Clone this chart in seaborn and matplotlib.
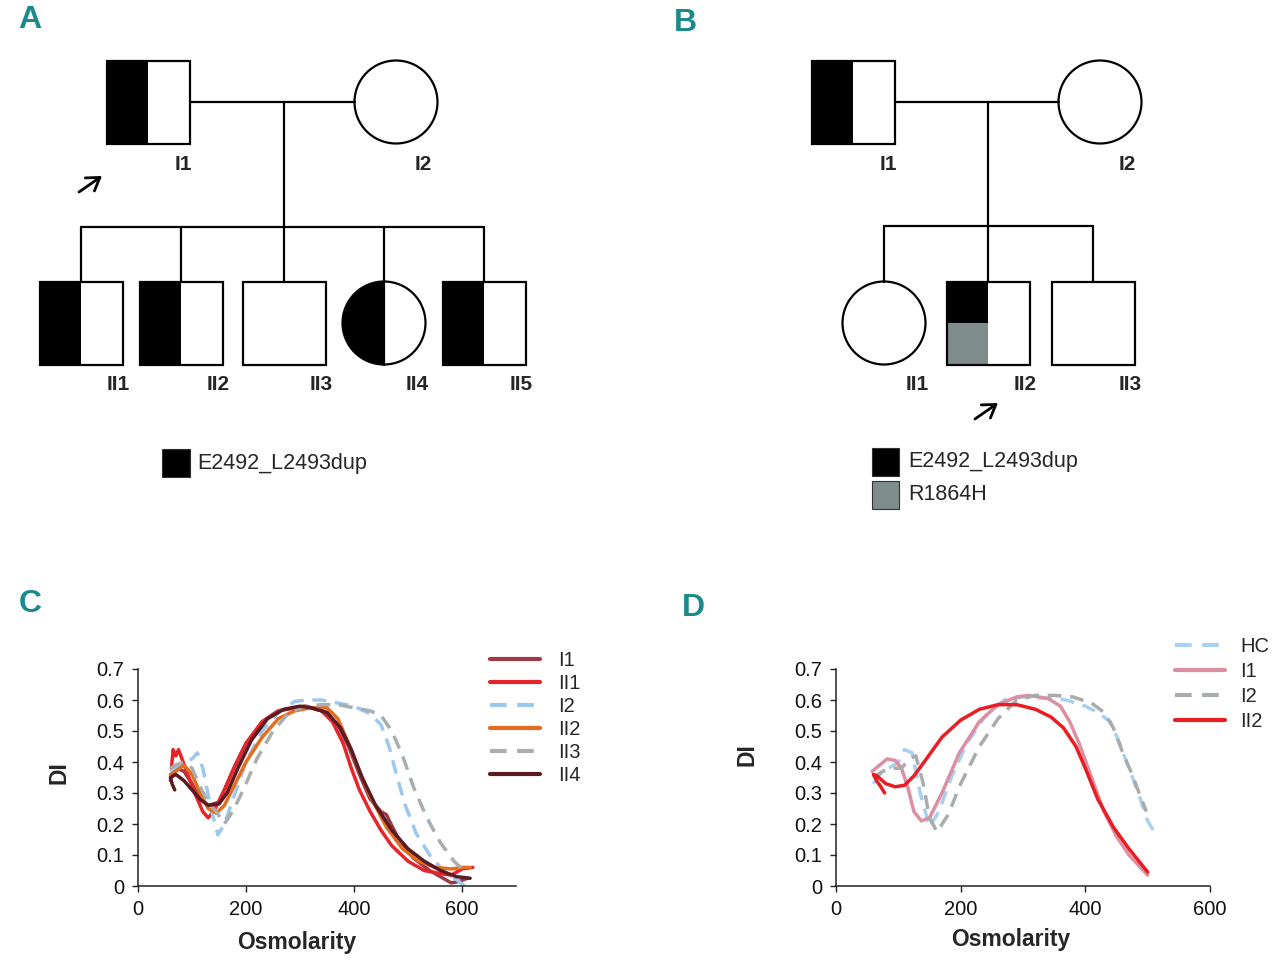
import numpy as np
import pandas as pd
import seaborn as sns
import matplotlib.pyplot as plt
from matplotlib.patches import Rectangle, Circle, Wedge, FancyArrowPatch

# ---- panel C: osmotic gradient ektacytometry, family 1 ----
c_samples = ['I1', 'II1', 'I2', 'II2', 'II3', 'II4']
c_colors = ['#9E3A48', '#E8242B', '#9CC8EE', '#E36C1E', '#A9AEAE', '#5C1A22']
c_dashed = [False, False, True, False, True, False]

c_I1_x = [60, 65, 72, 85, 100, 115, 130, 150, 175, 200, 230, 260, 290, 310, 340, 370, 390, 410, 430, 450, 460, 480, 510, 540, 560, 580, 595, 610]
c_I1_y = [0.34, 0.37, 0.38, 0.37, 0.33, 0.28, 0.26, 0.27, 0.37, 0.46, 0.53, 0.565, 0.575, 0.58, 0.565, 0.52, 0.45, 0.36, 0.28, 0.24, 0.23, 0.16, 0.09, 0.05, 0.03, 0.01, 0.015, 0.025]
c_II1_x = [62, 65, 70, 75, 90, 105, 120, 130, 140, 160, 180, 200, 230, 260, 290, 310, 340, 360, 380, 395, 410, 430, 450, 470, 500, 530, 560, 580, 600, 620]
c_II1_y = [0.38, 0.44, 0.42, 0.44, 0.37, 0.30, 0.24, 0.22, 0.24, 0.31, 0.39, 0.46, 0.53, 0.565, 0.575, 0.58, 0.565, 0.53, 0.46, 0.38, 0.31, 0.24, 0.18, 0.13, 0.08, 0.05, 0.04, 0.035, 0.055, 0.06]
c_I2_x = [60, 75, 90, 100, 110, 120, 135, 148, 160, 180, 200, 230, 260, 290, 310, 340, 370, 400, 430, 450, 465, 480, 495, 515, 540, 565, 590, 605]
c_I2_y = [0.37, 0.39, 0.40, 0.41, 0.43, 0.38, 0.25, 0.165, 0.2, 0.3, 0.4, 0.5, 0.56, 0.595, 0.6, 0.6, 0.59, 0.58, 0.555, 0.52, 0.45, 0.35, 0.26, 0.17, 0.1, 0.05, 0.02, 0.0]
c_II2_x = [60, 70, 85, 100, 115, 130, 145, 160, 180, 200, 230, 260, 290, 320, 350, 370, 390, 410, 430, 460, 490, 520, 550, 580, 600, 615]
c_II2_y = [0.36, 0.37, 0.39, 0.36, 0.30, 0.25, 0.235, 0.26, 0.33, 0.40, 0.48, 0.54, 0.565, 0.575, 0.575, 0.54, 0.46, 0.37, 0.29, 0.19, 0.12, 0.08, 0.06, 0.055, 0.06, 0.06]
c_II3_x = [60, 70, 85, 100, 115, 130, 145, 160, 175, 195, 220, 250, 280, 310, 340, 370, 400, 430, 450, 470, 490, 510, 535, 560, 585, 610]
c_II3_y = [0.38, 0.39, 0.40, 0.38, 0.32, 0.27, 0.24, 0.2, 0.24, 0.31, 0.41, 0.5, 0.56, 0.58, 0.585, 0.585, 0.575, 0.565, 0.55, 0.5, 0.42, 0.32, 0.22, 0.14, 0.08, 0.04]
c_II4_x = [68, 63, 60, 70, 85, 100, 115, 130, 150, 165, 185, 210, 240, 270, 300, 320, 350, 375, 395, 415, 440, 470, 500, 530, 560, 590, 615]
c_II4_y = [0.31, 0.33, 0.35, 0.36, 0.34, 0.31, 0.28, 0.26, 0.265, 0.3, 0.38, 0.47, 0.54, 0.57, 0.58, 0.575, 0.56, 0.51, 0.44, 0.35, 0.26, 0.18, 0.12, 0.08, 0.05, 0.03, 0.025]

# ---- panel D: family 2 ----
d_samples = ['HC', 'I1', 'I2', 'II2']
d_colors = ['#A9D0F0', '#DC8FA3', '#A8ACAB', '#E81E22']
d_dashed = [True, False, True, False]

d_HC_x = [60, 70, 85, 100, 110, 122, 135, 150, 165, 185, 210, 240, 270, 300, 340, 370, 400, 420, 440, 455, 470, 485, 500, 515]
d_HC_y = [0.33, 0.36, 0.38, 0.40, 0.44, 0.43, 0.3, 0.19, 0.24, 0.35, 0.46, 0.55, 0.6, 0.61, 0.605, 0.6, 0.58, 0.56, 0.53, 0.46, 0.38, 0.3, 0.21, 0.16]
d_I1_x = [58, 70, 82, 95, 105, 115, 125, 137, 150, 170, 198, 230, 260, 290, 310, 340, 360, 375, 390, 410, 430, 450, 470, 500]
d_I1_y = [0.37, 0.39, 0.41, 0.405, 0.38, 0.32, 0.24, 0.21, 0.22, 0.3, 0.43, 0.53, 0.585, 0.61, 0.615, 0.605, 0.58, 0.53, 0.46, 0.35, 0.24, 0.16, 0.1, 0.035]
d_I2_x = [60, 75, 90, 105, 118, 128, 140, 150, 162, 180, 200, 230, 260, 290, 320, 350, 380, 410, 430, 445, 460, 475, 490, 498]
d_I2_y = [0.35, 0.37, 0.38, 0.38, 0.41, 0.42, 0.33, 0.22, 0.175, 0.23, 0.33, 0.45, 0.54, 0.6, 0.615, 0.615, 0.61, 0.59, 0.56, 0.51, 0.43, 0.36, 0.28, 0.24]
d_II2_x = [78, 72, 65, 60, 66, 80, 95, 110, 125, 145, 170, 200, 230, 260, 290, 320, 345, 365, 385, 400, 420, 445, 470, 500]
d_II2_y = [0.30, 0.32, 0.34, 0.36, 0.355, 0.33, 0.32, 0.325, 0.355, 0.41, 0.48, 0.535, 0.57, 0.585, 0.585, 0.57, 0.545, 0.51, 0.45, 0.38, 0.28, 0.19, 0.12, 0.045]

y_ticks = [0, 0.1, 0.2, 0.3, 0.4, 0.5, 0.6, 0.7]
y_ticklabels = ['0', '0.1', '0.2', '0.3', '0.4', '0.5', '0.6', '0.7']
x_ticks = [0, 200, 400, 600]

# ---- pedigrees: (label, sex, status) ----
ped_a_parents = [('I1', 'M', 'het'), ('I2', 'F', 'none')]
ped_a_children = [('II1', 'M', 'het'), ('II2', 'M', 'het'), ('II3', 'M', 'none'),
                  ('II4', 'F', 'het'), ('II5', 'M', 'het')]
ped_b_parents = [('I1', 'M', 'het'), ('I2', 'F', 'none')]
ped_b_children = [('II1', 'F', 'none'), ('II2', 'M', 'compound'), ('II3', 'M', 'none')]
legend_a = ['E2492_L2493dup']
legend_b = ['E2492_L2493dup', 'R1864H']

TEAL = '#1B8A8C'
GREY = '#7F8C8C'
NARROW = ['Liberation Sans Narrow', 'Liberation Sans', 'DejaVu Sans']
LW = 1.6


def long_df(names, xs, ys):
    frames = [pd.DataFrame({'Osmolarity': x, 'DI': y, 'sample': n})
              for n, x, y in zip(names, xs, ys)]
    return pd.concat(frames, ignore_index=True)


def draw_member(ax, cx, cy, sex, status, size=83):
    h = size / 2
    if sex == 'M':
        if status == 'het':
            ax.add_patch(Rectangle((cx - h, cy - h), h, size, fc='black', ec='none'))
        elif status == 'compound':
            ax.add_patch(Rectangle((cx - h, cy - h), h, h, fc='black', ec='none'))
            ax.add_patch(Rectangle((cx - h, cy), h, h, fc=GREY, ec='none'))
        ax.add_patch(Rectangle((cx - h, cy - h), size, size, fc='none', ec='black', lw=LW))
    else:
        if status == 'het':
            ax.add_patch(Wedge((cx, cy), h, 90, 270, fc='black', ec='none'))
            ax.plot([cx, cx], [cy - h, cy + h], color='black', lw=LW)
        ax.add_patch(Circle((cx, cy), h, fc='none', ec='black', lw=LW))


def draw_pedigree(ax, parents, parent_x, children, child_x, drop_x, sib_y,
                  gen_y=(102, 323), size=83):
    h = size / 2
    ax.plot([parent_x[0] + h, parent_x[1] - h], [gen_y[0], gen_y[0]], color='black', lw=LW)
    ax.plot([drop_x, drop_x], [gen_y[0], sib_y], color='black', lw=LW)
    ax.plot([child_x[0], child_x[-1]], [sib_y, sib_y], color='black', lw=LW)
    for cx in child_x:
        ax.plot([cx, cx], [sib_y, gen_y[1] - h], color='black', lw=LW)
    for (lab, sex, st), cx in zip(parents, parent_x):
        draw_member(ax, cx, gen_y[0], sex, st, size)
        ax.text(cx + (35 if sex == 'M' else 27), gen_y[0] + 63, lab, ha='center', va='center',
                fontsize=15, fontweight='bold', family=NARROW)
    for (lab, sex, st), cx in zip(children, child_x):
        draw_member(ax, cx, gen_y[1], sex, st, size)
        ax.text(cx + (37 if sex == 'M' else 33), gen_y[1] + 61, lab, ha='center', va='center',
                fontsize=15, fontweight='bold', family=NARROW)


def line_panel(ax, df, names, colors, dashed, xmax, legend_anchor, labelspacing,
               textpad, xlab_pos, ylab_pos):
    palette = dict(zip(names, colors))
    dashes = {n: ((4, 2.5) if d else '') for n, d in zip(names, dashed)}
    sns.lineplot(data=df, x='Osmolarity', y='DI', hue='sample', style='sample',
                 hue_order=names, style_order=names, palette=palette, dashes=dashes,
                 sort=False, estimator=None, lw=2.5, ax=ax)
    ax.set_xlim(0, xmax)
    ax.set_ylim(0, 0.7)
    ax.set_xticks(x_ticks)
    ax.set_yticks(y_ticks)
    ax.set_yticklabels(y_ticklabels)
    sns.despine(ax=ax)
    for sp in ('left', 'bottom'):
        ax.spines[sp].set_linewidth(1.1)
        ax.spines[sp].set_color('#222222')
    ax.tick_params(direction='out', length=4, width=1, color='#222222',
                   labelsize=14.5, pad=6, left=True, bottom=True, labelcolor='#111111')
    ax.set_xlabel('Osmolarity', fontsize=16.5, fontweight='bold')
    ax.set_ylabel('DI', fontsize=16.5, fontweight='bold')
    ax.xaxis.set_label_coords(*xlab_pos)
    ax.yaxis.set_label_coords(*ylab_pos)
    old = ax.get_legend()
    handles = old.legend_handles
    labels = [t.get_text() for t in old.texts]
    leg = ax.legend(handles, labels, loc='upper left', bbox_to_anchor=legend_anchor,
                    bbox_transform=ax.figure.transFigure, frameon=False, fontsize=14.5,
                    handlelength=2.5, handletextpad=textpad, labelspacing=labelspacing,
                    borderpad=0, borderaxespad=0)
    for ln in leg.get_lines():
        ln.set_linewidth(3.0)


sns.set_theme(style='white')
plt.rcParams['font.family'] = ['Liberation Sans', 'DejaVu Sans']

fig = plt.figure(figsize=(12.8, 9.67), dpi=100)

# overlay in pixel coordinates for the pedigree drawings and panel letters
ov = fig.add_axes([0, 0, 1, 1])
ov.set_xlim(0, 1280)
ov.set_ylim(967, 0)
ov.axis('off')
ov.patch.set_visible(False)

draw_pedigree(ov, ped_a_parents, [148, 396], ped_a_children, [81, 181, 284, 384, 484],
              drop_x=284, sib_y=227)
draw_pedigree(ov, ped_b_parents, [853, 1100], ped_b_children, [884, 988, 1093],
              drop_x=988, sib_y=226)

for tail, head in [((79, 192), (102, 176)), ((975, 419), (998, 403))]:
    ov.add_patch(FancyArrowPatch(tail, head, arrowstyle='->,head_length=4,head_width=2.6',
                                 mutation_scale=2.2, color='black', lw=2.0,
                                 shrinkA=0, shrinkB=0))

for i, txt in enumerate(legend_a):
    ov.add_patch(Rectangle((162, 449 + 33 * i), 28, 28, fc='black', ec='#333333', lw=0.8))
    ov.text(197, 463 + 33 * i, txt, va='center', ha='left', fontsize=15.5)
for i, (txt, fc) in enumerate(zip(legend_b, ['black', GREY])):
    ov.add_patch(Rectangle((872, 448 + 33 * i), 27, 28, fc=fc, ec='#333333', lw=0.8))
    ov.text(908, 462 + 33 * i, txt, va='center', ha='left', fontsize=15.5)

for lab, (x, y) in zip('ABCD', [(30, 20), (685, 23), (30, 604), (693, 608)]):
    ov.text(x, y, lab, ha='center', va='center', fontsize=23, fontweight='bold',
            color=TEAL, family=NARROW)

axC = fig.add_axes([138 / 1280, 81 / 967, 378 / 1280, 217 / 967])
axD = fig.add_axes([836 / 1280, 81 / 967, 374 / 1280, 217 / 967])

dfC = long_df(c_samples,
              [c_I1_x, c_II1_x, c_I2_x, c_II2_x, c_II3_x, c_II4_x],
              [c_I1_y, c_II1_y, c_I2_y, c_II2_y, c_II3_y, c_II4_y])
dfD = long_df(d_samples,
              [d_HC_x, d_I1_x, d_I2_x, d_II2_x],
              [d_HC_y, d_I1_y, d_I2_y, d_II2_y])

line_panel(axC, dfC, c_samples, c_colors, c_dashed, 700, (490 / 1280, 1 - 651 / 967),
           0.2, 0.9, (0.42, -0.207), (-0.178, 0.525))
line_panel(axD, dfD, d_samples, d_colors, d_dashed, 600, (1175 / 1280, 1 - 637 / 967),
           0.305, 0.75, (0.468, -0.194), (-0.206, 0.604))

fig.savefig('out.png', dpi=100)
